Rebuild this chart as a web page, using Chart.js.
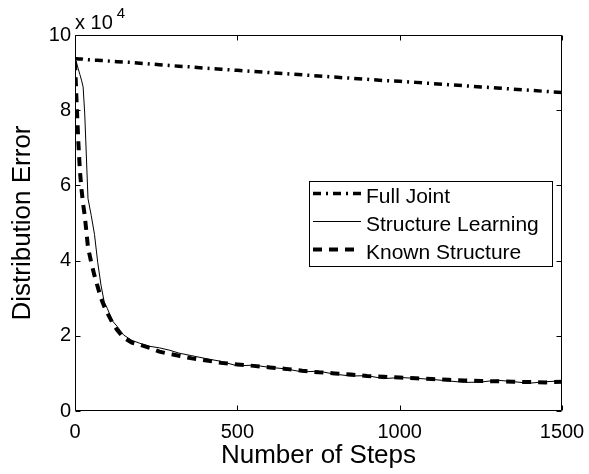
<!DOCTYPE html>
<html>
<head>
<meta charset="utf-8">
<script src="https://cdn.jsdelivr.net/npm/chart.js@4/dist/chart.umd.min.js"></script>
<style>
  body { margin: 0; background: #fff; }
  #wrap { width: 589px; height: 474px; }
</style>
</head>
<body>
<div id="wrap"><canvas id="errChart" width="589" height="474"></canvas></div>
<script>
// steps along the x axis, errors in units of 10^4
const steps = [0, 5, 10, 15, 20, 25, 30, 40, 50, 60, 70, 80, 90, 100, 115, 130, 150, 175, 200, 230,
  260, 290, 320, 360, 400, 450, 500, 550, 600, 650, 700, 750, 800, 850, 900, 950, 1000, 1050,
  1100, 1150, 1200, 1250, 1300, 1350, 1400, 1450, 1500];

const fullJoint = [9.37, 9.37, 9.36, 9.36, 9.36, 9.35, 9.35, 9.34, 9.34, 9.33, 9.33, 9.32, 9.32, 9.31,
  9.30, 9.29, 9.28, 9.27, 9.25, 9.23, 9.21, 9.19, 9.17, 9.15, 9.12, 9.09, 9.06, 9.03, 9.00, 8.97,
  8.94, 8.91, 8.88, 8.85, 8.82, 8.79, 8.77, 8.74, 8.71, 8.68, 8.65, 8.62, 8.59, 8.56, 8.53, 8.50, 8.47];

const structureLearning = [9.40, 9.25, 9.10, 8.95, 8.80, 8.62, 7.90, 5.65, 5.20, 4.70, 3.95, 3.35, 2.90,
  2.72, 2.40, 2.25, 2.02, 1.88, 1.80, 1.72, 1.68, 1.62, 1.54, 1.47, 1.40, 1.32, 1.20, 1.22, 1.16, 1.12,
  1.04, 1.06, 0.98, 0.93, 0.94, 0.86, 0.89, 0.87, 0.84, 0.80, 0.76, 0.77, 0.82, 0.78, 0.74, 0.78, 0.80];

const knownStructure = [9.30, 8.20, 7.20, 6.40, 5.90, 5.50, 5.20, 4.35, 3.95, 3.60, 3.30, 3.00, 2.78,
  2.60, 2.35, 2.15, 1.95, 1.82, 1.76, 1.68, 1.58, 1.52, 1.47, 1.40, 1.35, 1.28, 1.24, 1.20, 1.16, 1.12,
  1.07, 1.03, 1.00, 0.97, 0.93, 0.91, 0.89, 0.87, 0.85, 0.83, 0.81, 0.80, 0.79, 0.78, 0.77, 0.76, 0.78];

const seriesNames = ['Full Joint', 'Structure Learning', 'Known Structure'];
const xTicks = [0, 500, 1000, 1500];
const yTicks = [0, 2, 4, 6, 8, 10];

const FONT = 'Liberation Sans, Arial, Helvetica, sans-serif';

function pts(values) {
  return steps.map((s, i) => ({ x: s, y: values[i] }));
}

// box around the axes, inward ticks, exponent label and the legend
const matlabFrame = {
  id: 'matlabFrame',
  afterDraw(chart) {
    const ctx = chart.ctx;
    const a = chart.chartArea;
    const xs = chart.scales.x;
    const ys = chart.scales.y;
    const L = Math.round(a.left) + 0.5, R = Math.round(a.right) - 0.5;
    const T = Math.round(a.top) + 0.5, B = Math.round(a.bottom) - 0.5;
    const tl = 5;

    ctx.save();
    ctx.strokeStyle = '#000';
    ctx.lineWidth = 1;
    ctx.beginPath();
    ctx.rect(L, T, R - L, B - T);
    xTicks.forEach(v => {
      const px = Math.round(xs.getPixelForValue(v)) + 0.5;
      ctx.moveTo(px, B); ctx.lineTo(px, B - tl);
      ctx.moveTo(px, T); ctx.lineTo(px, T + tl);
    });
    yTicks.forEach(v => {
      const py = Math.round(ys.getPixelForValue(v)) + 0.5;
      ctx.moveTo(L, py); ctx.lineTo(L + tl, py);
      ctx.moveTo(R, py); ctx.lineTo(R - tl, py);
    });
    ctx.stroke();

    // x 10^4 above the y axis
    ctx.fillStyle = '#000';
    ctx.textBaseline = 'alphabetic';
    ctx.textAlign = 'left';
    ctx.font = '20px ' + FONT;
    ctx.fillText('x 10', a.left, 29);
    const w = ctx.measureText('x 10').width;
    ctx.font = '15px ' + FONT;
    ctx.fillText('4', a.left + w + 4, 18);

    // legend
    const bx = a.right - 253, by = 181, bw = 243, bh = 85;
    ctx.fillStyle = '#fff';
    ctx.fillRect(bx, by, bw, bh);
    ctx.strokeRect(Math.round(bx) + 0.5, by + 0.5, bw, bh);
    ctx.font = '21px ' + FONT;
    chart.data.datasets.forEach((ds, i) => {
      const ly = by + 12.5 + i * 28;
      ctx.save();
      ctx.strokeStyle = ds.borderColor;
      ctx.lineWidth = ds.borderWidth;
      ctx.setLineDash(ds.borderDash || []);
      ctx.beginPath();
      ctx.moveTo(bx + 4, ly);
      ctx.lineTo(bx + 52, ly);
      ctx.stroke();
      ctx.restore();
      ctx.fillStyle = '#000';
      ctx.fillText(ds.label, bx + 57, by + 22 + i * 28);
    });
    ctx.restore();
  }
};

new Chart(document.getElementById('errChart'), {
  type: 'line',
  data: {
    datasets: [
      { label: seriesNames[0], data: pts(fullJoint), borderColor: '#000', borderWidth: 3.5,
        borderDash: [8, 5, 2, 5] },
      { label: seriesNames[1], data: pts(structureLearning), borderColor: '#000', borderWidth: 1 },
      { label: seriesNames[2], data: pts(knownStructure), borderColor: '#000', borderWidth: 4,
        borderDash: [9, 7] }
    ]
  },
  options: {
    responsive: false,
    animation: false,
    devicePixelRatio: 1,
    layout: { padding: { top: 35, right: 27, left: 0, bottom: 0 } },
    elements: { point: { radius: 0 }, line: { tension: 0, fill: false } },
    plugins: { legend: { display: false }, tooltip: { enabled: false } },
    scales: {
      x: {
        type: 'linear', min: 0, max: 1500,
        // fixed axis band; the layout padding already leaves room for "1500"
        afterFit: s => { s.height = 63; s.paddingLeft = 0; s.paddingRight = 0; },
        afterBuildTicks: s => { s.ticks = xTicks.map(v => ({ value: v })); },
        grid: { display: false, drawTicks: false },
        border: { display: false },
        ticks: { color: '#000', padding: 9, maxRotation: 0, font: { family: FONT, size: 20 },
          callback: v => String(v) },
        title: { display: true, text: 'Number of Steps', color: '#000',
          font: { family: FONT, size: 26 }, padding: { top: 0, bottom: 3 } }
      },
      y: {
        type: 'linear', min: 0, max: 10,
        afterFit: s => { s.width = 75; s.paddingTop = 0; s.paddingBottom = 0; },
        afterBuildTicks: s => { s.ticks = yTicks.map(v => ({ value: v })); },
        grid: { display: false, drawTicks: false },
        border: { display: false },
        ticks: { color: '#000', padding: 4, font: { family: FONT, size: 20 },
          callback: v => String(v) },
        title: { display: true, text: 'Distribution Error', color: '#000',
          font: { family: FONT, size: 26 }, padding: { top: 7, bottom: 0 } }
      }
    }
  },
  plugins: [matlabFrame]
});
</script>
</body>
</html>
